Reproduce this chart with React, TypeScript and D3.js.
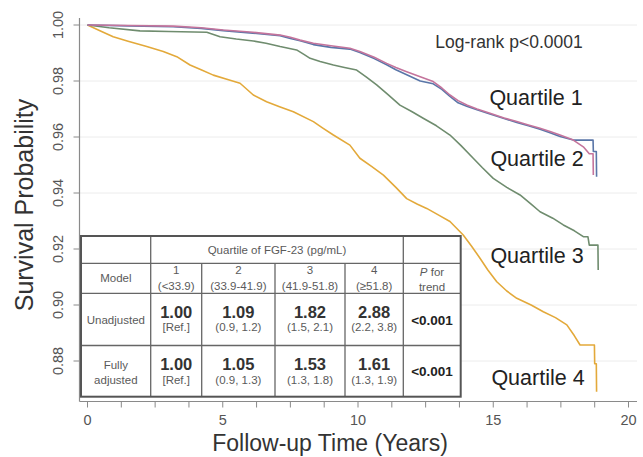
import React from "react";
import * as d3 from "d3";

// ---- Data ----
const q1Times = [0, 1.5, 3.17, 4.2, 5.02, 6.0, 7.12, 7.5, 7.86, 8.35, 9.0, 9.7, 10.07, 10.6, 11.06, 11.4, 11.8, 12.3, 12.78, 13.1, 13.4, 13.7, 14.02, 14.4, 14.88, 15.4, 15.87, 16.3, 16.73, 17.1, 17.47, 17.96, 18.33, 18.55, 18.69, 18.7];
const q1Surv = [1, 0.9998, 0.9996, 0.999, 0.9982, 0.9975, 0.9964, 0.9956, 0.9946, 0.9935, 0.9926, 0.9917, 0.9905, 0.9885, 0.9863, 0.9848, 0.9833, 0.9815, 0.9798, 0.9775, 0.975, 0.973, 0.9714, 0.97, 0.9685, 0.9668, 0.9655, 0.9643, 0.9631, 0.962, 0.9607, 0.9589, 0.9565, 0.954, 0.954, 0.9464];

const q2Times = [0, 1.5, 3.17, 4.2, 5.02, 6.0, 7.12, 7.5, 7.86, 8.35, 9.0, 9.7, 10.07, 10.6, 11.06, 11.4, 11.8, 12.3, 12.78, 13.1, 13.4, 13.7, 14.02, 14.4, 14.88, 15.4, 15.87, 16.3, 16.73, 17.1, 17.47, 17.96, 18.69, 18.7, 18.81, 18.82];
const q2Surv = [1, 0.9997, 0.9994, 0.9988, 0.998, 0.9972, 0.9962, 0.9952, 0.9944, 0.993, 0.992, 0.9914, 0.9902, 0.988, 0.9858, 0.984, 0.9822, 0.98, 0.979, 0.977, 0.9745, 0.9722, 0.971, 0.9697, 0.9682, 0.9666, 0.9652, 0.964, 0.9628, 0.9615, 0.9602, 0.9589, 0.9589, 0.9548, 0.9548, 0.9458];

const q3Times = [0, 0.8, 1.94, 3.0, 4.41, 4.9, 5.5, 6.13, 6.6, 7.12, 7.73, 8.0, 8.23, 8.6, 9.09, 9.5, 9.95, 10.3, 10.69, 11.1, 11.55, 12.0, 12.41, 12.9, 13.4, 13.8, 14.26, 14.6, 15.0, 15.5, 15.99, 16.4, 16.73, 17.2, 17.59, 18.0, 18.33, 18.5, 18.55, 18.87, 18.88];
const q3Surv = [1, 0.999, 0.9979, 0.9977, 0.9974, 0.9958, 0.995, 0.9943, 0.9935, 0.9923, 0.9911, 0.9895, 0.9881, 0.987, 0.9857, 0.9848, 0.9839, 0.9815, 0.9786, 0.9752, 0.9714, 0.969, 0.9667, 0.964, 0.9607, 0.957, 0.9524, 0.949, 0.9452, 0.942, 0.9393, 0.936, 0.9333, 0.931, 0.9286, 0.9265, 0.9244, 0.9244, 0.9214, 0.9214, 0.9125];

const q4Times = [0, 0.5, 0.95, 1.5, 2.19, 2.8, 3.3, 3.79, 4.2, 4.65, 5.15, 5.64, 6.13, 6.62, 7.1, 7.61, 8.35, 8.7, 9.09, 9.7, 10.07, 10.5, 10.94, 11.4, 11.8, 12.2, 12.54, 13.0, 13.4, 13.89, 14.2, 14.51, 14.8, 15.13, 15.5, 15.87, 16.4, 16.85, 17.3, 17.72, 18.0, 18.21, 18.74, 18.75, 18.81, 18.82];
const q4Surv = [1, 0.9978, 0.9958, 0.9942, 0.9923, 0.9905, 0.9887, 0.9857, 0.984, 0.9821, 0.9806, 0.9792, 0.975, 0.9726, 0.9708, 0.969, 0.9655, 0.9632, 0.9607, 0.9571, 0.9524, 0.9495, 0.9464, 0.942, 0.938, 0.936, 0.9345, 0.932, 0.9298, 0.925, 0.921, 0.9167, 0.9125, 0.9083, 0.905, 0.9024, 0.9, 0.8976, 0.8955, 0.8929, 0.889, 0.8857, 0.8857, 0.879, 0.879, 0.869];

const seriesNames = ["Quartile 1", "Quartile 2", "Quartile 3", "Quartile 4"];
const seriesColors = ["#c4749c", "#5a76a8", "#6f8c6e", "#e3a93a"];

const xTickLabels = [0, 5, 10, 15, 20];
const yTickLabels = [1.0, 0.98, 0.96, 0.94, 0.92, 0.9, 0.88];

const logRankText = "Log-rank p<0.0001";
const xTitle = "Follow-up Time (Years)";
const yTitle = "Survival Probability";

// table content
const tableHeader = "Quartile of FGF-23 (pg/mL)";
const quartileNums = ["1", "2", "3", "4"];
const quartileRanges = ["(<33.9)", "(33.9-41.9)", "(41.9-51.8)", "(\u226551.8)"];
const hrUnadj = ["1.00", "1.09", "1.82", "2.88"];
const ciUnadj = ["[Ref.]", "(0.9, 1.2)", "(1.5, 2.1)", "(2.2, 3.8)"];
const hrAdj = ["1.00", "1.05", "1.53", "1.61"];
const ciAdj = ["[Ref.]", "(0.9, 1.3)", "(1.3, 1.8)", "(1.3, 1.9)"];
const pTrend = ["<0.001", "<0.001"];

const FONT = "'Liberation Sans', Arial, Helvetica, sans-serif";

export default function App() {
  const W = 643, H = 457;
  const x = d3.scaleLinear().domain([0, 20]).range([87.5, 628.5]);
  const y = d3.scaleLinear().domain([0.88, 1.0]).range([361, 25]);
  const axisX = 79.5, axisY = 401.5;

  const line = d3
    .line<[number, number]>()
    .x((d) => x(d[0]))
    .y((d) => y(d[1]))
    .curve(d3.curveLinear);

  const series = [
    { t: q4Times, s: q4Surv, c: seriesColors[3] },
    { t: q3Times, s: q3Surv, c: seriesColors[2] },
    { t: q2Times, s: q2Surv, c: seriesColors[1] },
    { t: q1Times, s: q1Surv, c: seriesColors[0] },
  ];

  const minorTicks = d3.range(0, 20.001, 1.25);

  // table geometry
  const colX = [81, 150.7, 201.7, 275, 345, 403.3, 460.7];
  const rowY = [236, 263.3, 293.3, 345.5, 396.7];
  const colC = colX.slice(0, -1).map((v, i) => (v + colX[i + 1]) / 2);
  const small = 11.5;
  const gray = "#5a5a5a";

  return (
    <svg
      width={W}
      height={H}
      style={{ position: "absolute", left: 0, top: 0, background: "#fff" }}
      fontFamily={FONT}
    >
      <rect x={0} y={0} width={W} height={H} fill="#fff" />
      {/* gridlines */}
      {yTickLabels.map((v) => (
        <line key={"g" + v} x1={axisX} x2={637} y1={y(v)} y2={y(v)} stroke="#ececec" strokeWidth={1} />
      ))}
      {/* axes */}
      <line x1={axisX} x2={axisX} y1={18} y2={axisY} stroke="#8a8a8a" strokeWidth={1.2} />
      <line x1={axisX} x2={637} y1={axisY} y2={axisY} stroke="#8a8a8a" strokeWidth={1.2} />
      {yTickLabels.map((v) => (
        <g key={"yt" + v}>
          <line x1={axisX - 6} x2={axisX} y1={y(v)} y2={y(v)} stroke="#8a8a8a" strokeWidth={1} />
          <text
            transform={`translate(${58},${y(v)}) rotate(-90)`}
            textAnchor="middle"
            dominantBaseline="central"
            fontSize={14.5}
            fill="#555"
          >
            {v.toFixed(2)}
          </text>
        </g>
      ))}
      {minorTicks.map((v) => (
        <line key={"xt" + v} x1={x(v)} x2={x(v)} y1={axisY} y2={axisY + 6} stroke="#8a8a8a" strokeWidth={1} />
      ))}
      {xTickLabels.map((v) => (
        <text key={"xl" + v} x={x(v)} y={420} textAnchor="middle" dominantBaseline="central" fontSize={14.5} fill="#555">
          {v}
        </text>
      ))}
      {/* titles */}
      <text x={330} y={443} textAnchor="middle" dominantBaseline="central" fontSize={23} fill="#333">
        {xTitle}
      </text>
      <text
        transform={`translate(24,205) rotate(-90)`}
        textAnchor="middle"
        dominantBaseline="central"
        fontSize={25}
        fill="#333"
      >
        {yTitle}
      </text>

      {/* curves */}
      {series.map((sr, i) => (
        <path
          key={"s" + i}
          d={line(sr.t.map((t, j) => [t, sr.s[j]] as [number, number])) || ""}
          fill="none"
          stroke={sr.c}
          strokeWidth={1.6}
          strokeLinejoin="round"
        />
      ))}

      {/* annotations */}
      <text x={509} y={42} textAnchor="middle" dominantBaseline="central" fontSize={17.5} fill="#333">
        {logRankText}
      </text>
      {[
        [536, 98],
        [537, 159],
        [537, 256],
        [538, 378],
      ].map((p, i) => (
        <text key={"q" + i} x={p[0]} y={p[1]} textAnchor="middle" dominantBaseline="central" fontSize={21.5} fill="#222">
          {seriesNames[i]}
        </text>
      ))}

      {/* table */}
      <g>
        <rect x={colX[0]} y={rowY[0]} width={colX[6] - colX[0]} height={rowY[4] - rowY[0]} fill="#fff" />
        {rowY.slice(1, 4).map((r) => (
          <line key={"r" + r} x1={colX[0]} x2={colX[6]} y1={r} y2={r} stroke="#666" strokeWidth={1.3} />
        ))}
        {colX.slice(1, 6).map((c, i) => (
          <line
            key={"c" + c}
            x1={c}
            x2={c}
            y1={i === 0 || i === 4 ? rowY[0] : rowY[1]}
            y2={rowY[4]}
            stroke="#666"
            strokeWidth={1.3}
          />
        ))}
        <rect
          x={colX[0]}
          y={rowY[0]}
          width={colX[6] - colX[0]}
          height={rowY[4] - rowY[0]}
          fill="none"
          stroke="#555"
          strokeWidth={2}
        />
        <text x={(colX[1] + colX[5]) / 2} y={250} textAnchor="middle" dominantBaseline="central" fontSize={small} fill={gray}>
          {tableHeader}
        </text>
        <text x={colC[0]} y={278.3} textAnchor="middle" dominantBaseline="central" fontSize={small} fill={gray}>
          Model
        </text>
        {quartileNums.map((q, i) => (
          <g key={"qn" + i}>
            <text x={colC[i + 1]} y={270} textAnchor="middle" dominantBaseline="central" fontSize={small} fill={gray}>
              {q}
            </text>
            <text x={colC[i + 1]} y={286} textAnchor="middle" dominantBaseline="central" fontSize={small} fill={gray}>
              {quartileRanges[i]}
            </text>
          </g>
        ))}
        <text x={colC[5]} y={271.5} textAnchor="middle" dominantBaseline="central" fontSize={small} fill={gray}>
          <tspan fontStyle="italic">P</tspan> for
        </text>
        <text x={colC[5]} y={286.5} textAnchor="middle" dominantBaseline="central" fontSize={small} fill={gray}>
          trend
        </text>
        <text x={colC[0]} y={320} textAnchor="middle" dominantBaseline="central" fontSize={small} fill={gray}>
          Unadjusted
        </text>
        <text x={colC[0]} y={365} textAnchor="middle" dominantBaseline="central" fontSize={small} fill={gray}>
          Fully
        </text>
        <text x={colC[0]} y={380} textAnchor="middle" dominantBaseline="central" fontSize={small} fill={gray}>
          adjusted
        </text>
        {hrUnadj.map((h, i) => (
          <g key={"hu" + i}>
            <text x={colC[i + 1]} y={311.5} textAnchor="middle" dominantBaseline="central" fontSize={16.5} fontWeight="bold" fill="#333">
              {h}
            </text>
            <text x={colC[i + 1]} y={327} textAnchor="middle" dominantBaseline="central" fontSize={small} fill={gray}>
              {ciUnadj[i]}
            </text>
          </g>
        ))}
        {hrAdj.map((h, i) => (
          <g key={"ha" + i}>
            <text x={colC[i + 1]} y={363.5} textAnchor="middle" dominantBaseline="central" fontSize={16.5} fontWeight="bold" fill="#333">
              {h}
            </text>
            <text x={colC[i + 1]} y={380} textAnchor="middle" dominantBaseline="central" fontSize={small} fill={gray}>
              {ciAdj[i]}
            </text>
          </g>
        ))}
        <text x={colC[5]} y={320} textAnchor="middle" dominantBaseline="central" fontSize={13.5} fontWeight="bold" fill="#222">
          {pTrend[0]}
        </text>
        <text x={colC[5]} y={371.5} textAnchor="middle" dominantBaseline="central" fontSize={13.5} fontWeight="bold" fill="#222">
          {pTrend[1]}
        </text>
      </g>
    </svg>
  );
}
